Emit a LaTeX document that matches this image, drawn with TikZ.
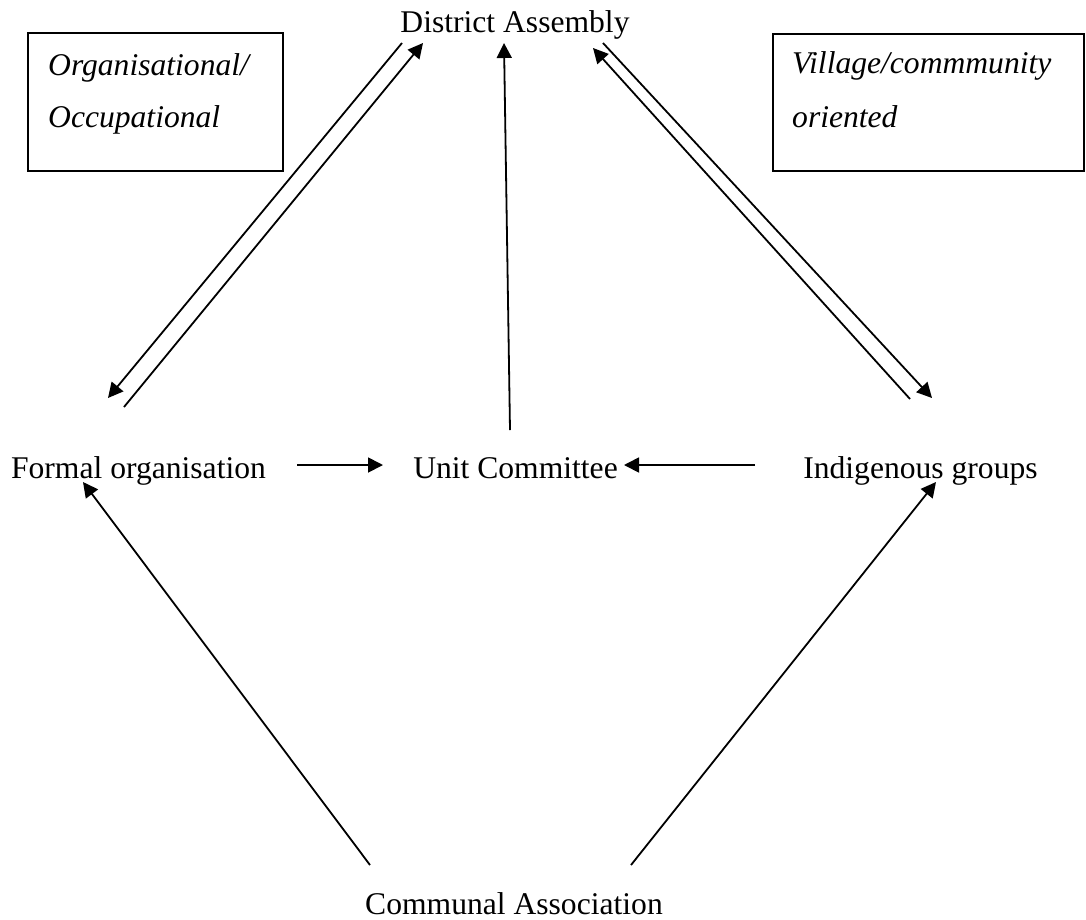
\documentclass[tikz,border=0pt]{standalone}
\usepackage{fontspec}
\setmainfont{Liberation Serif}
\usetikzlibrary{arrows.meta}
\newcommand\dgfont{\fontsize{31.6}{38}\selectfont}
\begin{document}
\begin{tikzpicture}[x=1pt,y=-1pt,
  lbl/.style={font=\dgfont, inner sep=0pt},
  itl/.style={font=\dgfont\itshape, inner sep=0pt, anchor=base west},
  boxstyle/.style={draw, line width=1.8pt, inner sep=0pt, anchor=north west},
  conn/.style={line width=1.8pt, -{Triangle[length=15pt,width=15pt]}}]
\useasboundingbox (0,0) rectangle (1086,919);

% main labels
\node[lbl, anchor=base] (da) at (515,32) {District Assembly};
\node[lbl, anchor=base] (fo) at (138.5,478) {Formal organisation};
\node[lbl, anchor=base] (uc) at (515.5,478) {Unit Committee};
\node[lbl, anchor=base] (ig) at (920.5,478) {Indigenous groups};
\node[lbl, anchor=base] (ca) at (514,914) {Communal Association};

% boxes
\node[boxstyle, minimum width=255pt, minimum height=138pt] (lbox) at (27,32) {};
\node[itl] (lt1) at (48,75) {Organisational/};
\node[itl] (lt2) at (48,127) {Occupational};
\node[boxstyle, minimum width=311pt, minimum height=137pt] (rbox) at (772,33) {};
\node[itl] (rt1) at (792,73) {Village/commmunity};
\node[itl] (rt2) at (792,127) {oriented};

% connector end points
\coordinate (a1s) at (402,43);  \coordinate (a1e) at (108,398);
\coordinate (a2s) at (124,407); \coordinate (a2e) at (423,43);
\coordinate (c1s) at (510,430); \coordinate (c1e) at (504,43);
\coordinate (b1s) at (603,43);  \coordinate (b1e) at (932,398);
\coordinate (b2s) at (910,399); \coordinate (b2e) at (593,48);
\coordinate (h1s) at (297,465); \coordinate (h1e) at (383,465);
\coordinate (h2s) at (755,465); \coordinate (h2e) at (624,465);
\coordinate (d1s) at (370,865); \coordinate (d1e) at (83,482);
\coordinate (d2s) at (631,865); \coordinate (d2e) at (936,482);

% connectors
\draw[conn] (a1s) -- (a1e);
\draw[conn] (a2s) -- (a2e);
\draw[conn] (c1s) -- (c1e);
\draw[conn] (b1s) -- (b1e);
\draw[conn] (b2s) -- (b2e);
\draw[conn] (h1s) -- (h1e);
\draw[conn] (h2s) -- (h2e);
\draw[conn] (d1s) -- (d1e);
\draw[conn] (d2s) -- (d2e);
\end{tikzpicture}
\end{document}
